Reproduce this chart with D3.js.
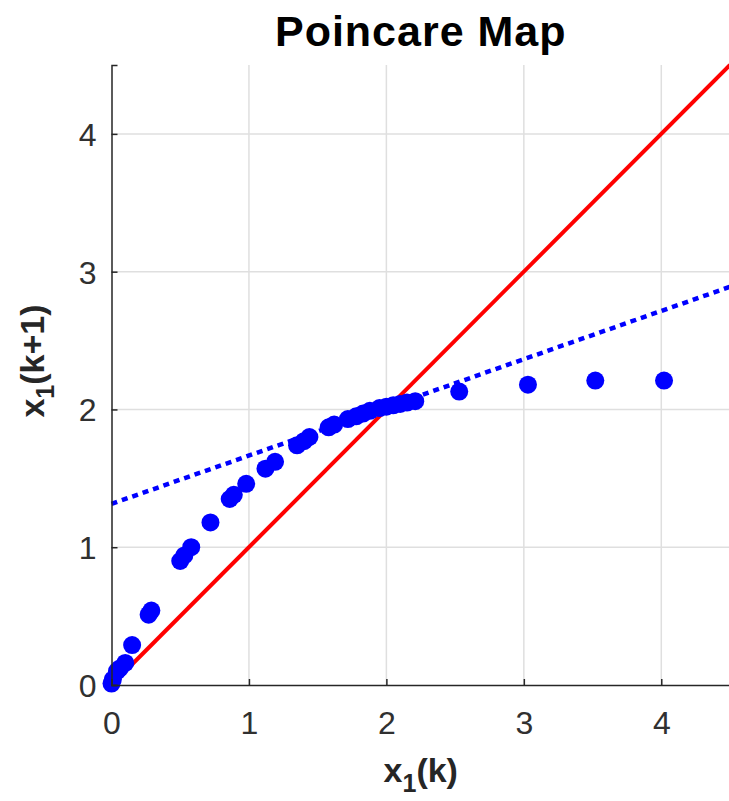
<!DOCTYPE html>
<html lang="en">
<head>
    <meta charset="UTF-8">
    <title>Poincare Map</title>
    <script src="https://d3js.org/d3.v7.min.js"></script>
    <style>
        body { margin: 0; background: #fff; }
        text { font-family: "Liberation Sans", Arial, sans-serif; }
    </style>
</head>
<body>
    <div class="canvas"></div>
    <script>
        const width = 729;
        const height = 801;
        // plot margins
        let [mt, mr, mb, ml] = [65, -1, 116, 111.5];

        const graphWidth = width - ml - mr;
        const graphHeight = height - mt - mb;

        // poincare map samples x1(k) -> x1(k+1)
        const xk = [0.00, 0.01, 0.04, 0.06, 0.10, 0.15, 0.27, 0.29, 0.50, 0.53, 0.58,
                    0.72, 0.86, 0.89, 0.98, 1.12, 1.19, 1.35, 1.40, 1.44, 1.58, 1.62,
                    1.72, 1.78, 1.83, 1.88, 1.95, 2.00, 2.05, 2.10, 2.15, 2.21,
                    2.53, 3.03, 3.52, 4.02];
        const xk1 = [0.01, 0.04, 0.10, 0.12, 0.16, 0.29, 0.51, 0.54, 0.90, 0.94, 1.00,
                     1.18, 1.35, 1.38, 1.46, 1.57, 1.62, 1.74, 1.77, 1.80, 1.87, 1.89,
                     1.93, 1.95, 1.97, 1.99, 2.01, 2.02, 2.03, 2.04, 2.05, 2.06,
                     2.13, 2.18, 2.21, 2.21];
        // identity line and linearised map (dotted)
        const diagX = [0, 4.5];
        const diagY = [0, 4.5];
        const tanX = [0, 4.5];
        const tanY = [1.315, 2.89];
        const ticks = [0, 1, 2, 3, 4];

        const svg = d3.select('.canvas')
                    .append('svg')
                    .attr('width', width)
                    .attr('height', height);

        const graph = svg.append('g')
            .attr('transform', `translate(${ml}, ${mt})`);

        const x = d3.scaleLinear().domain([0, 4.5]).range([0, graphWidth]);
        const y = d3.scaleLinear().domain([0, 4.5]).range([graphHeight, 0]);

        // grid
        graph.append('g')
            .selectAll('line.gx')
            .data(ticks.slice(1))
            .enter().append('line')
            .attr('x1', d => x(d)).attr('x2', d => x(d))
            .attr('y1', 0).attr('y2', graphHeight)
            .attr('stroke', '#dfdfdf').attr('stroke-width', 1.5);
        graph.append('g')
            .selectAll('line.gy')
            .data(ticks.slice(1))
            .enter().append('line')
            .attr('x1', 0).attr('x2', graphWidth)
            .attr('y1', d => y(d)).attr('y2', d => y(d))
            .attr('stroke', '#dfdfdf').attr('stroke-width', 1.5);

        const line = d3.line().x(d => x(d[0])).y(d => y(d[1]));

        graph.append('path')
            .attr('d', line(d3.zip(diagX, diagY)))
            .attr('stroke', '#ff0000')
            .attr('stroke-width', 4)
            .attr('fill', 'none');

        graph.append('path')
            .attr('d', line(d3.zip(tanX, tanY)))
            .attr('stroke', '#0000ff')
            .attr('stroke-width', 4.5)
            .attr('stroke-dasharray', '6,5')
            .attr('fill', 'none');

        graph.selectAll('circle')
            .data(d3.zip(xk, xk1))
            .enter().append('circle')
            .attr('cx', d => x(d[0]))
            .attr('cy', d => y(d[1]))
            .attr('r', 9)
            .attr('fill', '#0000ff');

        // axes (matlab style, ticks inward)
        const xAxis = d3.axisBottom(x).tickValues(ticks).tickSize(-6).tickPadding(26).tickFormat(d3.format('d'));
        const yAxis = d3.axisLeft(y).tickValues(ticks).tickSize(-6).tickPadding(15).tickFormat(d3.format('d'));

        const xAxisG = graph.append('g')
            .attr('transform', `translate(0, ${graphHeight})`)
            .call(xAxis);
        const yAxisG = graph.append('g').call(yAxis);

        [xAxisG, yAxisG].forEach(g => {
            g.select('.domain').attr('stroke', '#262626').attr('stroke-width', 1.5);
            g.selectAll('.tick line').attr('stroke', '#262626').attr('stroke-width', 1.5);
            g.selectAll('.tick text')
                .attr('fill', '#303030')
                .style('font-size', '32px')
                .style('font-family', '"Liberation Sans", Arial, sans-serif');
        });
        xAxisG.selectAll('.tick text').attr('dy', '0.72em');
        yAxisG.selectAll('.tick text').attr('dy', '0.36em');

        // title
        svg.append('text')
            .attr('x', ml + graphWidth / 2)
            .attr('y', 46)
            .attr('text-anchor', 'middle')
            .style('font-size', '43px')
            .style('font-weight', 'bold')
            .style('letter-spacing', '1px')
            .attr('fill', '#000')
            .text('Poincare Map');

        // axis labels
        const xl = svg.append('text')
            .attr('x', ml + graphWidth / 2)
            .attr('y', 782)
            .attr('text-anchor', 'middle')
            .style('font-size', '34px')
            .style('font-weight', 'bold')
            .attr('fill', '#262626');
        xl.append('tspan').text('x');
        xl.append('tspan').attr('dy', 10).style('font-size', '25px').text('1');
        xl.append('tspan').attr('dy', -10).text('(k)');

        const yl = svg.append('text')
            .attr('transform', `translate(44, ${mt + graphHeight / 2 - 14}) rotate(-90)`)
            .attr('text-anchor', 'middle')
            .style('font-size', '34px')
            .style('font-weight', 'bold')
            .attr('fill', '#262626');
        yl.append('tspan').text('x');
        yl.append('tspan').attr('dy', 10).style('font-size', '25px').text('1');
        yl.append('tspan').attr('dy', -10).text('(k+1)');
    </script>
</body>
</html>
